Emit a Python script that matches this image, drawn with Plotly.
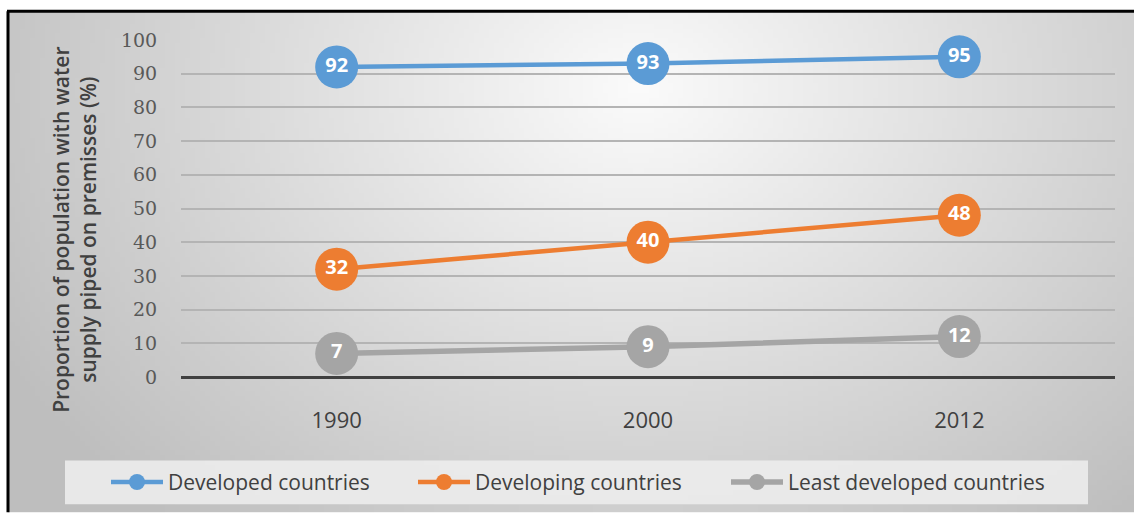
import base64
import struct
import zlib

import numpy as np
import plotly.graph_objects as go

# ---------------- data ----------------
years = ["1990", "2000", "2012"]
developed = [92, 93, 95]
developing = [32, 40, 48]
least_developed = [7, 9, 12]
series_names = ["Developed countries", "Developing countries", "Least developed countries"]
series_colors = ["#5B9BD5", "#ED7D31", "#A5A5A5"]
y_ticks = [0, 10, 20, 30, 40, 50, 60, 70, 80, 90, 100]

# ---------------- geometry ----------------
W, H = 1134, 515
L, R, T, B = 181, 1115, 40, 379  # plot area in px
PW, PH = R - L, B - T


def px_x(px):
    return (px - L) / PW


def px_y(py):
    return (B - py) / PH


# ---------------- gradient background as inline PNG ----------------
def make_png(arr):
    h, w, _ = arr.shape
    raw = b"".join(b"\x00" + arr[i].tobytes() for i in range(h))

    def chunk(tag, data):
        return (struct.pack(">I", len(data)) + tag + data
                + struct.pack(">I", zlib.crc32(tag + data) & 0xFFFFFFFF))

    return (b"\x89PNG\r\n\x1a\n"
            + chunk(b"IHDR", struct.pack(">IIBBBBB", w, h, 8, 2, 0, 0, 0))
            + chunk(b"IDAT", zlib.compress(raw, 9))
            + chunk(b"IEND", b""))


gw, gh = 226, 101
xx, yy = np.meshgrid(np.linspace(0, 1, gw), np.linspace(0, 1, gh))
d = np.sqrt(((xx - 0.56) / 0.62) ** 2 + ((yy - 0.15) / 1.1) ** 2)
val = np.clip(251 - 58 * d, 190, 251).astype(np.uint8)
img = np.dstack([val, val, val]).astype(np.uint8)
bg_uri = "data:image/png;base64," + base64.b64encode(make_png(img)).decode()

fig = go.Figure()

legend_ids = ["legend", "legend2", "legend3"]
legend_left_px = [106, 413, 726]

for name, vals, col, lg in zip(series_names, [developed, developing, least_developed],
                               series_colors, legend_ids):
    fig.add_trace(go.Scatter(
        x=years, y=vals, name=name,
        mode="lines+markers+text",
        line=dict(color=col, width=4.5 if col != "#A5A5A5" else 5.5),
        marker=dict(size=43, color=col, line=dict(width=0)),
        text=[str(v) for v in vals],
        textposition="middle center",
        textfont=dict(family="Open Sans", size=20, color="white", weight="bold"),
        cliponaxis=False,
        hoverinfo="skip",
        legend=lg,
    ))

shapes = [
    # legend background box
    dict(type="rect", xref="paper", yref="paper",
         x0=px_x(65), x1=px_x(1088), y0=px_y(507), y1=px_y(463),
         fillcolor="rgba(236,236,236,0.9)", line=dict(width=0), layer="below"),
    # frame: top and left
    dict(type="line", xref="paper", yref="paper",
         x0=px_x(7), x1=px_x(1134), y0=px_y(11), y1=px_y(11),
         line=dict(color="black", width=3)),
    dict(type="line", xref="paper", yref="paper",
         x0=px_x(8), x1=px_x(8), y0=px_y(11), y1=px_y(515),
         line=dict(color="black", width=3)),
]

legend_common = dict(
    orientation="h", xanchor="left",
    y=px_y(485), yanchor="middle",
    bgcolor="rgba(0,0,0,0)",
    font=dict(family="Open Sans", size=21, color="#404040"),
    itemwidth=52,
    itemclick=False, itemdoubleclick=False,
)
legends = {lg: dict(legend_common, x=px_x(xl)) for lg, xl in zip(legend_ids, legend_left_px)}

fig.update_layout(
    width=W, height=H,
    margin=dict(l=L, r=W - R, t=T, b=H - B, pad=0),
    paper_bgcolor="white",
    plot_bgcolor="rgba(0,0,0,0)",
    showlegend=True,
    xaxis=dict(
        type="category", range=[-0.5, 2.5],
        showgrid=False, zeroline=False, showline=False,
        ticks="outside", ticklen=24, tickcolor="rgba(0,0,0,0)",
        tickfont=dict(family="Open Sans", size=22, color="#404040"),
    ),
    yaxis=dict(
        range=[0, 100], tickvals=y_ticks,
        showgrid=True, gridcolor="#b4b4b4", gridwidth=2,
        zeroline=True, zerolinecolor="#404040", zerolinewidth=3,
        showline=False,
        ticks="outside", ticklen=19, tickcolor="rgba(0,0,0,0)",
        tickfont=dict(family="DejaVu Serif", size=19, color="#595959"),
    ),
    images=[dict(
        source=bg_uri, xref="paper", yref="paper",
        x=px_x(8), y=px_y(11), sizex=(W - 8) / PW, sizey=(H - 11) / PH,
        xanchor="left", yanchor="top", sizing="stretch", layer="below",
    )],
    shapes=shapes,
    annotations=[dict(
        text="Proportion of population with water<br>supply piped on premisses (%)",
        xref="paper", yref="paper", x=px_x(75), y=px_y(231),
        xanchor="center", yanchor="middle", textangle=-90,
        showarrow=False,
        font=dict(family="Open Sans", size=21, color="#404040", weight=600),
    )],
    **legends,
)

fig.write_html(
    "out.html",
    config={"displayModeBar": False},
    post_script="document.body.style.margin='0';document.body.style.padding='0';",
)
